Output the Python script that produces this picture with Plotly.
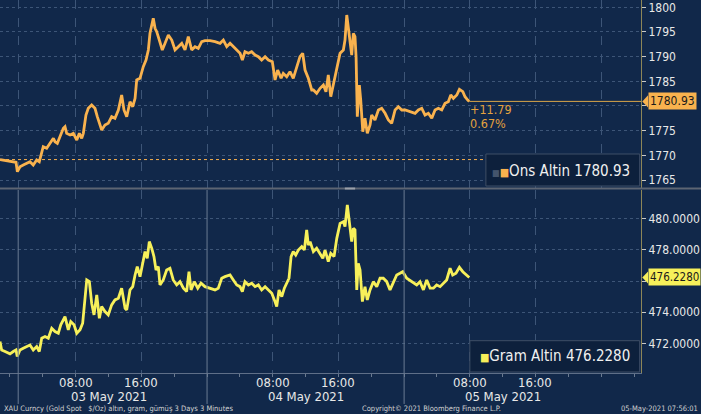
import pandas as pd
import plotly.graph_objects as go

# ---------------- data ----------------
BASE = pd.Timestamp("2021-05-03 00:00")

# minutes after 03 May 2021 00:00 (Istanbul time), Ons Altin (XAU, $/oz)
ons_minutes = [-73, -15, 44, 54, 73, 97, 122, 146, 170, 195, 214, 232, 243, 268, 292, 317, 329, 346,
               365, 390, 402, 414, 439, 463, 488, 507, 524, 536, 555, 572, 597, 621, 638, 658, 670,
               694, 718, 743, 767, 792, 816, 833, 853, 877, 897, 914, 926, 950, 974, 994, 1011, 1023,
               1036, 1047, 1060, 1072, 1091, 1113, 1133, 1157, 1182, 1206, 1230, 1255, 1279, 1303,
               1328, 1352, 1376, 1401, 1425, 1462, 1498, 1535, 1559, 1584, 1608, 1632, 1657, 1681,
               1698, 1717, 1742, 1766, 1791, 1815, 1839, 1864, 1888, 1917, 1937, 1956, 1981, 1997,
               2022, 2046, 2070, 2095, 2119, 2139, 2156, 2180, 2205, 2217, 2241, 2266, 2290, 2309,
               2326, 2344, 2363, 2388, 2412, 2436, 2448, 2461, 2472, 2485, 2497, 2509, 2521, 2529,
               2538, 2553, 2563, 2578, 2594, 2611, 2631, 2643, 2667, 2692, 2716, 2741, 2765, 2789,
               2814, 2838, 2863, 2887, 2923, 2960, 2984, 3009, 3033, 3057, 3082, 3106, 3130, 3155,
               3179, 3203, 3221, 3240, 3265, 3284, 3309, 3325, 3345, 3356]
ons_values = [1769.15, 1768.89, 1768.59, 1766.68, 1767.69, 1768.04, 1768.38, 1768.71, 1768.04, 1769.05,
              1768.71, 1770.73, 1771.75, 1771.42, 1772.44, 1773.45, 1772.76, 1772.44, 1773.77, 1775.48,
              1775.80, 1774.46, 1774.12, 1774.46, 1773.10, 1774.46, 1773.45, 1774.46, 1778.17, 1779.53,
              1780.20, 1779.53, 1777.83, 1775.80, 1775.13, 1776.14, 1776.49, 1777.83, 1777.50, 1779.19,
              1782.23, 1779.19, 1777.83, 1780.87, 1779.85, 1781.56, 1785.27, 1785.61, 1787.96, 1789.32,
              1791.35, 1794.73, 1796.07, 1797.77, 1795.74, 1795.06, 1793.37, 1791.35, 1792.70, 1794.39,
              1793.37, 1791.35, 1792.01, 1792.70, 1791.35, 1794.04, 1791.35, 1792.01, 1791.69, 1793.03,
              1793.23, 1793.23, 1793.03, 1792.70, 1793.37, 1792.01, 1792.70, 1792.01, 1791.35, 1790.68,
              1789.32, 1791.00, 1790.68, 1791.00, 1790.33, 1789.99, 1789.32, 1789.99, 1789.32, 1788.97,
              1785.27, 1787.29, 1785.61, 1786.62, 1785.93, 1786.95, 1785.61, 1787.96, 1789.99, 1790.68,
              1787.29, 1785.61, 1783.24, 1783.24, 1782.57, 1783.58, 1784.25, 1782.89, 1786.28, 1781.88,
              1784.25, 1787.96, 1790.68, 1791.35, 1793.37, 1798.44, 1796.07, 1794.04, 1790.33, 1794.73,
              1794.04, 1789.99, 1777.83, 1784.25, 1781.21, 1774.79, 1777.50, 1774.46, 1776.14, 1778.17,
              1777.16, 1779.19, 1779.53, 1778.52, 1777.16, 1776.49, 1779.19, 1779.85, 1779.19, 1779.19,
              1778.84, 1778.52, 1779.19, 1779.53, 1778.17, 1778.52, 1777.50, 1779.19, 1779.53, 1779.19,
              1780.54, 1780.87, 1782.23, 1781.56, 1782.23, 1783.38, 1782.89, 1781.88, 1781.21, 1780.93]

# Gram Altin (TRY / gram)
gram_minutes = [-73, -61, -36, 0, 24, 44, 53, 73, 97, 122, 146, 170, 195, 214, 232, 256, 280, 305, 329,
                353, 371, 402, 426, 444, 468, 488, 512, 531, 548, 561, 580, 597, 614, 634, 653, 670,
                694, 718, 743, 767, 792, 816, 841, 853, 877, 897, 914, 930, 950, 970, 987, 1003, 1018,
                1036, 1052, 1067, 1084, 1096, 1120, 1145, 1169, 1193, 1218, 1242, 1267, 1291, 1308,
                1323, 1347, 1372, 1396, 1425, 1462, 1498, 1522, 1547, 1571, 1608, 1632, 1657, 1681,
                1698, 1717, 1742, 1766, 1791, 1815, 1839, 1864, 1888, 1913, 1932, 1949, 1966, 1986,
                2005, 2022, 2039, 2054, 2070, 2088, 2107, 2132, 2151, 2168, 2180, 2193, 2217, 2241,
                2266, 2286, 2302, 2326, 2344, 2368, 2388, 2412, 2436, 2448, 2465, 2480, 2497, 2509,
                2521, 2534, 2545, 2558, 2575, 2594, 2611, 2631, 2655, 2680, 2704, 2728, 2753, 2777,
                2801, 2826, 2850, 2870, 2899, 2936, 2972, 2996, 3021, 3045, 3070, 3094, 3118, 3143,
                3167, 3191, 3216, 3235, 3259, 3284, 3309, 3333, 3356]
gram_values = [472.12, 471.58, 471.48, 471.33, 471.48, 471.58, 471.16, 471.58, 471.69, 471.80, 471.90,
               471.58, 471.80, 471.48, 472.33, 472.44, 472.33, 472.97, 472.76, 472.65, 473.19, 473.72,
               472.87, 473.40, 473.19, 472.65, 472.87, 473.29, 474.79, 476.07, 475.96, 474.58, 473.83,
               475.11, 473.61, 474.36, 474.04, 473.83, 474.47, 474.79, 474.90, 475.54, 474.25, 474.15,
               475.43, 475.64, 476.39, 476.93, 476.28, 477.25, 477.89, 477.46, 478.53, 478.10, 477.57,
               476.71, 476.93, 475.75, 476.07, 476.71, 476.82, 476.07, 475.75, 475.96, 475.54, 475.32,
               476.60, 475.43, 475.96, 475.54, 475.86, 475.64, 475.54, 475.43, 475.54, 476.18, 476.28,
               476.39, 476.07, 475.75, 475.64, 475.32, 475.96, 475.75, 475.86, 475.64, 475.75, 475.43,
               475.64, 475.43, 475.22, 474.79, 474.36, 475.43, 475.00, 475.54, 475.86, 476.18, 477.57,
               477.89, 477.67, 477.99, 478.21, 477.99, 479.28, 478.31, 478.53, 477.89, 478.10, 477.78,
               477.46, 477.99, 477.25, 477.78, 477.57, 478.74, 479.70, 479.81, 479.49, 480.88, 479.81,
               478.53, 479.38, 479.28, 475.43, 477.14, 476.71, 474.68, 475.64, 474.79, 475.43, 475.96,
               475.64, 476.18, 476.18, 475.96, 475.43, 475.86, 476.39, 476.50, 476.60, 476.18, 475.96,
               475.75, 475.96, 475.43, 476.07, 475.54, 475.54, 475.75, 475.64, 475.86, 476.07, 476.82,
               476.39, 476.50, 476.88, 476.60, 476.39, 476.228]

ons_name = "Ons Altin"
gram_name = "Gram Altin"
ons_last = 1780.93
ons_change = 11.79
ons_pct = 0.67
gram_last = 476.2280

ons_ticks = [1765, 1770, 1775, 1780, 1785, 1790, 1795, 1800]
gram_ticks = [472, 474, 476, 478, 480]
hour_ticks = ["2021-05-03 08:00", "2021-05-03 16:00", "2021-05-04 08:00",
              "2021-05-04 16:00", "2021-05-05 08:00", "2021-05-05 16:00"]
hour_labels = ["08:00", "16:00", "08:00", "16:00", "08:00", "16:00"]
session_breaks = ["2021-05-03 01:00", "2021-05-04 00:00", "2021-05-05 00:00"]
extra_grid = ["2021-05-06 00:00"]
day_labels = ["03 May 2021", "04 May 2021", "05 May 2021"]
day_label_at = ["2021-05-03 12:00", "2021-05-04 12:00", "2021-05-05 12:00"]
x_range = ["2021-05-02 22:47", "2021-05-06 04:51"]

footer_left = "XAU Curncy (Gold Spot   $/Oz) altın, gram, gümüş 3 Days 3 Minutes"
footer_mid = "Copyright© 2021 Bloomberg Finance L.P."
footer_right = "05-May-2021 07:56:01"

# ---------------- styling ----------------
BG = "#11284a"
GRID = "#3d5577"
ORANGE = "#f9b24e"
YELLOW = "#f7f05a"
TXT = "#e8e8e8"
FONT = "DejaVu Sans Condensed, DejaVu Sans, sans-serif"

ons_t = [BASE + pd.Timedelta(minutes=m) for m in ons_minutes]
gram_t = [BASE + pd.Timedelta(minutes=m) for m in gram_minutes]

# tick labels hidden where the last-value tag sits on top of them
ons_ticktext = ["" if abs(v - ons_last) < 2.5 else str(v) for v in ons_ticks]
gram_ticktext = ["" if abs(v - gram_last) < 0.8 else f"{v:.4f}" for v in gram_ticks]

fig = go.Figure()
fig.add_trace(go.Scatter(x=ons_t, y=ons_values, mode="lines", name=ons_name,
                         line=dict(color=ORANGE, width=2.8), xaxis="x2", yaxis="y2",
                         showlegend=False, hoverinfo="skip"))
fig.add_trace(go.Scatter(x=gram_t, y=gram_values, mode="lines", name=gram_name,
                         line=dict(color=YELLOW, width=2.8), xaxis="x", yaxis="y",
                         showlegend=False, hoverinfo="skip"))

TOP_DOM = [0.496, 1.0]
BOT_DOM = [0.0, 0.4906]

fig.update_layout(
    width=701, height=414,
    margin=dict(l=0, r=60, t=0, b=41),
    paper_bgcolor=BG, plot_bgcolor=BG,
    font=dict(family=FONT, color=TXT, size=12),
    xaxis=dict(domain=[0, 1], anchor="y", type="date", range=x_range,
               tickvals=hour_ticks, showticklabels=False, ticks="outside", ticklen=3,
               tickcolor="#6a7a90", showline=True, linecolor="#5f6f88", linewidth=1,
               showgrid=True, gridcolor=GRID, griddash="dash", gridwidth=1, zeroline=False,
               minor=dict(dtick=4 * 3600 * 1000, ticks="outside", ticklen=3, tickcolor="#6a7a90",
                          showgrid=False)),
    xaxis2=dict(domain=[0, 1], anchor="y2", type="date", range=x_range, matches="x",
                tickvals=session_breaks + hour_ticks + extra_grid, showticklabels=False, ticks="",
                showgrid=True, gridcolor=GRID, griddash="dash", gridwidth=1, zeroline=False),
    yaxis=dict(domain=BOT_DOM, anchor="x", side="right", range=[470.1, 481.84],
               tickvals=gram_ticks, ticktext=gram_ticktext,
               ticks="outside", ticklen=4, tickcolor="#c8c8c8",
               showline=True, linecolor="#8d8658", linewidth=1,
               showgrid=True, gridcolor=GRID, griddash="dot", zeroline=False,
               tickfont=dict(size=12, color=TXT)),
    yaxis2=dict(domain=TOP_DOM, anchor="x2", side="right", range=[1763.38, 1801.48],
                tickvals=ons_ticks, ticktext=ons_ticktext, ticks="outside", ticklen=4,
                tickcolor="#c8c8c8", showline=True, linecolor="#8d8658", linewidth=1,
                showgrid=True, gridcolor=GRID, griddash="dot", zeroline=False,
                tickfont=dict(size=12, color=TXT)),
)

shapes = []
# session separators in the lower panel (solid) extending into the label area
for s in session_breaks:
    shapes.append(dict(type="line", xref="x", yref="paper", x0=s, x1=s, y0=-0.083, y1=BOT_DOM[1],
                       line=dict(color="#6b7b93", width=1)))
# panel separator
shapes.append(dict(type="line", xref="paper", yref="paper", x0=0, x1=1.1, y0=0.4946, y1=0.4946,
                   line=dict(color="#5d6573", width=2)))
shapes.append(dict(type="line", xref="paper", yref="paper", x0=0.538, x1=0.554, y0=0.4946, y1=0.4946,
                   line=dict(color="#9aa0aa", width=2)))
# previous close (dotted) and last-price line
prev_close = round(ons_last - ons_change, 2)
shapes.append(dict(type="line", xref="paper", yref="y2", x0=0, x1=1, y0=prev_close, y1=prev_close,
                   line=dict(color=ORANGE, width=1, dash="dot")))
shapes.append(dict(type="line", xref="x2", yref="y2", x0=ons_t[-1], x1=x_range[1],
                   y0=ons_last, y1=ons_last, line=dict(color="#d9a548", width=1)))
# legend boxes
shapes.append(dict(type="rect", xref="paper", yref="paper", x0=0.758, x1=0.998, y0=0.5013, y1=0.5871,
                   fillcolor="#0d203c", line=dict(color="#3f4e66", width=1), layer="above"))
shapes.append(dict(type="rect", xref="paper", yref="paper", x0=0.733, x1=0.998, y0=0.0027, y1=0.0866,
                   fillcolor="#0d203c", line=dict(color="#3f4e66", width=1), layer="above"))
# value tags pointer triangles
for val, yref, col, half in [(ons_last, "y2", ORANGE, 1.25), (gram_last, "y", YELLOW, 0.38)]:
    shapes.append(dict(type="path", xref="paper", yref=yref,
                       path=f"M 1.002,{val} L 1.011,{val + half} L 1.011,{val - half} Z",
                       fillcolor=col, line=dict(color=col, width=0)))
fig.update_layout(shapes=shapes)

ann = []
for lab, at in zip(hour_labels, hour_ticks):
    ann.append(dict(x=at, xref="x", y=-0.0263, yref="paper", text=lab, showarrow=False,
                    xanchor="center", yanchor="middle", font=dict(size=13, color=TXT)))
for lab, at in zip(day_labels, day_label_at):
    ann.append(dict(x=at, xref="x", y=-0.0617, yref="paper", text=lab, showarrow=False,
                    xanchor="center", yanchor="middle", font=dict(size=13, color=TXT)))
ann.append(dict(x=0.003, xref="paper", y=-0.0965, yref="paper", text=footer_left, showarrow=False,
                xanchor="left", yanchor="middle", font=dict(size=7.5, color="#d0d0d0")))
ann.append(dict(x=0.5616, xref="paper", y=-0.0965, yref="paper", text=footer_mid, showarrow=False,
                xanchor="left", yanchor="middle", font=dict(size=7.5, color="#d0d0d0")))
ann.append(dict(x=1.092, xref="paper", y=-0.0965, yref="paper", text=footer_right, showarrow=False,
                xanchor="right", yanchor="middle", font=dict(size=7.5, color="#d0d0d0")))
# change annotation
ann.append(dict(x=ons_t[-1], xref="x2", y=ons_last, yref="y2", text=f"+{ons_change:.2f}",
                showarrow=False, xanchor="left", yanchor="middle", xshift=-1, yshift=-8,
                font=dict(size=12.5, color="#e3a23f")))
ann.append(dict(x=ons_t[-1], xref="x2", y=ons_last, yref="y2", text=f"{ons_pct:.2f}%",
                showarrow=False, xanchor="left", yanchor="middle", xshift=-1, yshift=-22,
                font=dict(size=12.5, color="#e3a23f")))
# value tags
ann.append(dict(x=1.011, xref="paper", y=ons_last, yref="y2", text=f"{ons_last:.2f}", showarrow=False,
                xanchor="left", yanchor="middle", bgcolor=ORANGE, borderpad=1,
                font=dict(size=12, color="#1b1b1b")))
ann.append(dict(x=1.011, xref="paper", y=gram_last, yref="y", text=f"{gram_last:.4f}", showarrow=False,
                xanchor="left", yanchor="middle", bgcolor=YELLOW, borderpad=1,
                font=dict(size=11.5, color="#1b1b1b")))
# legends
ann.append(dict(x=0.986, xref="paper", y=0.5424, yref="paper",
                text=f"<span style='color:#44546c;font-size:9px'>■</span><span style='color:{ORANGE};font-size:11px'>■</span>{ons_name} {ons_last:.2f}",
                showarrow=False, xanchor="right", yanchor="middle", font=dict(size=15, color="#f0f0f0")))
ann.append(dict(x=0.986, xref="paper", y=0.0456, yref="paper",
                text=f"<span style='color:{YELLOW};font-size:11px'>■</span>{gram_name} {gram_last:.4f}",
                showarrow=False, xanchor="right", yanchor="middle", font=dict(size=15, color="#f0f0f0")))
fig.update_layout(annotations=ann)

fig.write_html("out.html", config={"displayModeBar": False},
               post_script="document.body.style.margin='0';document.body.style.overflow='hidden';"
                           "document.body.style.background='#11284a';")
